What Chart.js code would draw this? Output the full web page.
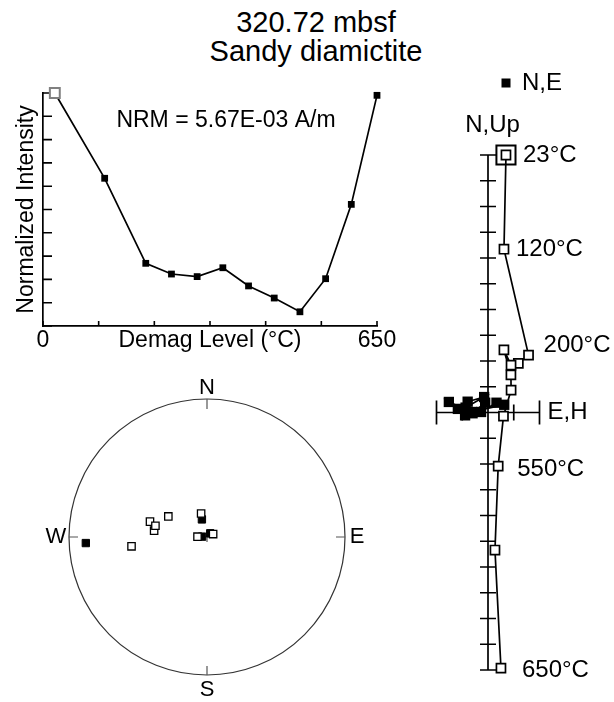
<!DOCTYPE html>
<html>
<head>
<meta charset="utf-8">
<title>320.72 mbsf - Sandy diamictite</title>
<script src="https://cdn.jsdelivr.net/npm/chart.js@4.4.0/dist/chart.umd.min.js"></script>
<style>
  html, body { margin: 0; padding: 0; background: #fff; }
  #wrap { position: relative; width: 614px; height: 702px; overflow: hidden; background: #fff;
          font-family: "Liberation Sans", Arial, Helvetica, sans-serif; }
  #wrap canvas { position: absolute; left: 0; top: 0; }
  .title { position: absolute; left: 0; width: 632px; text-align: center; font-size: 29px; line-height: 29px; color: #000; }
</style>
</head>
<body>
<div id="wrap">
  <div class="title" style="top: 8px">320.72 mbsf<br>Sandy diamictite</div>
  <canvas id="intensity" width="614" height="702"></canvas>
  <canvas id="stereonet" width="614" height="702"></canvas>
  <canvas id="zijderveld" width="614" height="702"></canvas>
</div>
<script>
// Thermal demagnetization steps (°C) and J/J0
const demagSteps = [23, 120, 200, 250, 300, 350, 400, 450, 500, 550, 600, 650];
const normIntensity = [1.0, 0.634, 0.269, 0.223, 0.212, 0.25, 0.172, 0.12, 0.061, 0.203, 0.522, 0.99];
const nrmLabel = 'NRM = 5.67E-03 A/m';

// Remanence components per step (units of NRM / 10)
const compN  = [0.30, 0.02, 0.41, 0.14, 0.42, 0.60, 0.19, -0.11, -0.03, 0.38, 0.02, 0.38];
const compE  = [0.63, -0.62, -1.52, -1.17, -0.79, -0.15, -0.87, -0.89, -0.60, -0.11, -0.27, 0.33];
const compUp = [10.0, 6.34, 2.23, 1.91, 1.84, 2.43, 1.46, 0.87, -0.14, -2.08, -5.34, -9.93];

// Steps annotated on the vector plot
const labeledSteps = [23, 120, 200, 550, 650];

const FONT = '"Liberation Sans", Arial, Helvetica, sans-serif';

function drawText(ctx, text, x, y, size, align) {
    ctx.font = size + 'px ' + FONT;
    ctx.textAlign = align || 'center';
    ctx.textBaseline = 'middle';
    ctx.fillStyle = '#000';
    ctx.fillText(text, x, y);
}

const baseOptions = (padding) => ({
    responsive: false,
    animation: false,
    events: [],
    layout: { padding: padding },
    plugins: { legend: { display: false }, tooltip: { enabled: false }, title: { display: false } }
});

// ---------- intensity decay ----------
const intensityDecor = {
    id: 'intensityDecor',
    beforeDatasetsDraw(chart) {
        const { ctx, chartArea, scales } = chart;
        ctx.save();
        ctx.strokeStyle = '#000';
        ctx.lineWidth = 1.6;
        ctx.beginPath();
        scales.x.ticks.forEach(t => {
            const px = scales.x.getPixelForValue(t.value);
            ctx.moveTo(px, chartArea.bottom);
            ctx.lineTo(px, chartArea.bottom - 5);
        });
        scales.y.ticks.forEach(t => {
            const py = scales.y.getPixelForValue(t.value);
            ctx.moveTo(chartArea.left, py);
            ctx.lineTo(chartArea.left + 9, py);
        });
        ctx.stroke();
        ctx.restore();
    },
    afterDraw(chart) {
        const { ctx, chartArea, scales } = chart;
        ctx.save();
        const labelY = chartArea.bottom + 15;
        drawText(ctx, '0', scales.x.getPixelForValue(0), labelY, 23);
        drawText(ctx, '650', scales.x.getPixelForValue(650), labelY, 23);
        drawText(ctx, 'Demag Level (°C)', (chartArea.left + chartArea.right) / 2, labelY, 23);
        drawText(ctx, nrmLabel, 226, 121, 23);
        ctx.translate(27, (chartArea.top + chartArea.bottom) / 2);
        ctx.rotate(-Math.PI / 2);
        drawText(ctx, 'Normalized Intensity', 0, 0, 23);
        ctx.restore();
    }
};

new Chart(document.getElementById('intensity'), {
    type: 'line',
    data: {
        datasets: [{
            data: demagSteps.map((t, i) => ({ x: t, y: normIntensity[i] })),
            borderColor: '#000',
            borderWidth: 1.7,
            pointStyle: 'rect',
            pointRadius: c => c.dataIndex === 0 ? 7 : 4.8,
            pointBackgroundColor: c => c.dataIndex === 0 ? '#fff' : '#000',
            pointBorderColor: c => c.dataIndex === 0 ? '#808080' : '#000',
            pointBorderWidth: c => c.dataIndex === 0 ? 2 : 0,
            clip: false
        }]
    },
    options: Object.assign(baseOptions({ left: 43, top: 93, right: 237, bottom: 376 }), {
        scales: {
            x: {
                type: 'linear', min: 0, max: 650,
                ticks: { display: false, stepSize: 650 / 6 },
                grid: { drawOnChartArea: false, drawTicks: false },
                border: { color: '#000', width: 1.7 }
            },
            y: {
                type: 'linear', min: 0, max: 1,
                ticks: { display: false, stepSize: 0.1 },
                grid: { drawOnChartArea: false, drawTicks: false },
                border: { color: '#000', width: 1.7 }
            }
        }
    }),
    plugins: [intensityDecor]
});

// ---------- equal-area stereonet ----------
function equalArea(n, e, up) {
    const h = Math.hypot(n, e);
    const colat = Math.PI / 2 - Math.abs(Math.atan2(up, h));
    const r = Math.SQRT2 * Math.sin(colat / 2);
    const dec = Math.atan2(e, n);
    return { x: r * Math.sin(dec), y: r * Math.cos(dec) };
}

const upperHemi = [];
const lowerHemi = [];
demagSteps.forEach((t, i) => {
    const p = equalArea(compN[i], compE[i], compUp[i]);
    (compUp[i] > 0 ? upperHemi : lowerHemi).push(p);
});

const stereoDecor = {
    id: 'stereoDecor',
    beforeDatasetsDraw(chart) {
        const { ctx, scales } = chart;
        const cx = scales.x.getPixelForValue(0);
        const cy = scales.y.getPixelForValue(0);
        const r = scales.x.getPixelForValue(1) - cx;
        ctx.save();
        ctx.strokeStyle = '#333';
        ctx.lineWidth = 1.2;
        ctx.beginPath();
        ctx.arc(cx, cy, r, 0, Math.PI * 2);
        ctx.stroke();
        ctx.strokeStyle = '#555';
        ctx.beginPath();
        ctx.moveTo(cx, cy - r); ctx.lineTo(cx, cy - r + 10);
        ctx.moveTo(cx, cy + r); ctx.lineTo(cx, cy + r - 9);
        ctx.moveTo(cx - r, cy); ctx.lineTo(cx - r + 9, cy);
        ctx.moveTo(cx + r, cy); ctx.lineTo(cx + r - 9, cy);
        ctx.moveTo(cx - 5, cy); ctx.lineTo(cx + 5, cy);
        ctx.moveTo(cx, cy - 5); ctx.lineTo(cx, cy + 5);
        ctx.stroke();
        drawText(ctx, 'N', cx, cy - r - 11, 22);
        drawText(ctx, 'S', cx, cy + r + 15, 22);
        drawText(ctx, 'E', cx + r + 12, cy, 22);
        drawText(ctx, 'W', cx - r - 13, cy, 22);
        ctx.restore();
    }
};

new Chart(document.getElementById('stereonet'), {
    type: 'scatter',
    data: {
        datasets: [
            { data: upperHemi, pointStyle: 'rect', pointRadius: 5.2, pointBackgroundColor: '#fff',
              pointBorderColor: '#000', pointBorderWidth: 1.3, order: 0 },
            { data: lowerHemi, pointStyle: 'rect', pointRadius: 5.2, pointBackgroundColor: '#000',
              pointBorderColor: '#000', pointBorderWidth: 1, order: 1 }
        ]
    },
    options: Object.assign(baseOptions({ left: 69, top: 399, right: 269, bottom: 27 }), {
        scales: {
            x: { type: 'linear', display: false, min: -1, max: 1 },
            y: { type: 'linear', display: false, min: -1, max: 1 }
        }
    }),
    plugins: [stereoDecor]
});

// ---------- orthogonal vector plot ----------
const vertProj = demagSteps.map((t, i) => ({ x: Math.hypot(compN[i], compE[i]), y: compUp[i] }));
const horizProj = demagSteps.map((t, i) => ({ x: compE[i], y: compN[i] }));

const labelOffsets = { 23: [17, 0], 120: [12, 0], 200: [15, -10], 550: [19, 3], 650: [21, 2] };

const vectorDecor = {
    id: 'vectorDecor',
    beforeDatasetsDraw(chart) {
        const { ctx, scales } = chart;
        const x0 = scales.x.getPixelForValue(0);
        const y0 = scales.y.getPixelForValue(0);
        ctx.save();
        ctx.strokeStyle = '#000';
        ctx.lineWidth = 1.7;
        ctx.beginPath();
        ctx.moveTo(x0, scales.y.getPixelForValue(scales.y.max));
        ctx.lineTo(x0, scales.y.getPixelForValue(scales.y.min));
        for (let v = scales.y.min; v <= scales.y.max; v++) {
            const py = scales.y.getPixelForValue(v);
            ctx.moveTo(x0 - 8, py);
            ctx.lineTo(x0 + 8, py);
        }
        ctx.moveTo(scales.x.getPixelForValue(scales.x.min), y0);
        ctx.lineTo(scales.x.getPixelForValue(scales.x.max), y0);
        for (let v = scales.x.min; v <= scales.x.max; v++) {
            if (v === 0) continue;
            const px = scales.x.getPixelForValue(v);
            const half = (v === scales.x.min || v === scales.x.max) ? 12 : 8;
            ctx.moveTo(px, y0 - half);
            ctx.lineTo(px, y0 + half);
        }
        ctx.stroke();
        ctx.restore();
    },
    afterDraw(chart) {
        const { ctx, scales } = chart;
        const x0 = scales.x.getPixelForValue(0);
        const y0 = scales.y.getPixelForValue(0);
        const yTop = scales.y.getPixelForValue(scales.y.max);
        ctx.save();
        // legend
        ctx.fillStyle = '#000';
        ctx.fillRect(501.5, 78.5, 9, 9);
        drawText(ctx, 'N,E', 522, 83, 24, 'left');
        drawText(ctx, 'N,Up', x0 + 4.5, yTop - 30, 24);
        drawText(ctx, 'E,H', scales.x.getPixelForValue(scales.x.max) + 8, y0, 24, 'left');
        const pts = chart.getDatasetMeta(0).data;
        labeledSteps.forEach(step => {
            const i = demagSteps.indexOf(step);
            const off = labelOffsets[step];
            drawText(ctx, step + '°C', pts[i].x + off[0], pts[i].y + off[1], 24, 'left');
        });
        ctx.restore();
    }
};

new Chart(document.getElementById('zijderveld'), {
    type: 'scatter',
    data: {
        datasets: [
            { label: 'N,Up', data: vertProj, showLine: true, borderColor: '#000', borderWidth: 1.7,
              pointStyle: 'rect', pointRadius: 6.4, pointBackgroundColor: '#fff',
              pointBorderColor: '#000', pointBorderWidth: 1.7, clip: false, order: 0 },
            { label: 'N,E', data: horizProj, showLine: true, borderColor: '#000', borderWidth: 1.7,
              pointStyle: 'rect', pointRadius: 7.3, pointBackgroundColor: '#000',
              pointBorderColor: '#000', pointBorderWidth: 0, clip: false, order: 1 },
            { label: 'NRM', data: [vertProj[0]], pointStyle: 'rect', pointRadius: 13.5,
              pointBackgroundColor: 'rgba(0,0,0,0)', pointBorderColor: '#000',
              pointBorderWidth: 2, clip: false, order: 2 }
        ]
    },
    options: Object.assign(baseOptions({ left: 436.5, top: 155, right: 74.5, bottom: 32 }), {
        scales: {
            x: { type: 'linear', display: false, min: -2, max: 2 },
            y: { type: 'linear', display: false, min: -10, max: 10 }
        }
    }),
    plugins: [vectorDecor]
});
</script>
</body>
</html>
